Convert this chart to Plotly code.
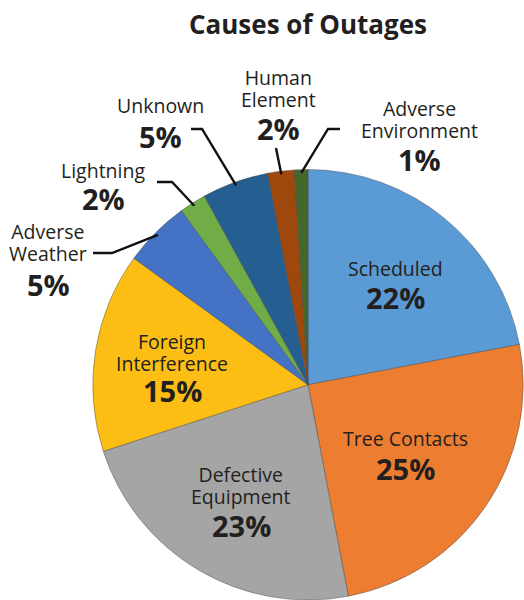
import math
import plotly.graph_objects as go

# ---- data ----
categories = ["Scheduled", "Tree Contacts", "Defective Equipment", "Foreign Interference",
              "Adverse Weather", "Lightning", "Unknown", "Human Element", "Adverse Environment"]
values = [22, 25, 23, 15, 5, 2, 5, 2, 1]
label_lines = [["Scheduled"], ["Tree Contacts"], ["Defective", "Equipment"], ["Foreign", "Interference"],
               ["Adverse", "Weather"], ["Lightning"], ["Unknown"], ["Human", "Element"], ["Adverse", "Environment"]]
colors = ["#5B9BD5", "#ED7D31", "#A5A5A5", "#FCBE14", "#4472C4", "#70AD47", "#255E91", "#9E480E", "#43682B"]
title_text = "Causes of Outages"

# ---- layout (pixels in the reference picture) ----
W, H = 524, 600
CX, CY, R = 308, 385, 215.5
FONT = "Open Sans"
TXT = "#231F20"
NAME_SIZE = 19.5
NAME_BASE = 17  # base size -> 1.3 * 17 = 22 px line spacing
PCT_SIZE = 29
TITLE_SIZE = 26
LINE_GAP = 22

# label text anchor: (x center, y of first line) in px, gap before percent line
label_pos = [(395, 268), (405, 438), (241, 474), (172, 341),
             (48, 231), (103, 170), (160, 106), (278, 78), (419, 108)]
pct_gap = [30, 30, 29, 28, 31, 28, 30, 29, 30]
# leader lines for outside labels: index -> (elbow px, end px)
leaders = {
    4: ((112, 253), (93, 253)),
    5: ((172, 182), (157, 182)),
    6: ((202, 129), (191, 129)),
    7: (None, (276, 148)),
    8: ((328, 129), (340, 129)),
}

def px(x):
    return x / W

def py(y):
    return 1 - y / H

fig = go.Figure(go.Pie(
    labels=categories,
    values=values,
    sort=False,
    direction="clockwise",
    rotation=0,
    marker=dict(colors=colors, line=dict(color="rgba(70,70,70,0.55)", width=0.8)),
    textinfo="none",
    hoverinfo="label+percent",
    domain=dict(x=[px(CX - R), min(1.0, px(CX + R))], y=[max(0.0, py(CY + R)), py(CY - R)]),
    showlegend=False,
))

annotations = [dict(text=f"<b>{title_text}</b>", x=px(CX), y=py(24), xref="paper", yref="paper",
                    showarrow=False, xanchor="center", yanchor="middle",
                    font=dict(family=FONT, size=TITLE_SIZE, color=TXT))]
total = sum(values)
shapes = []
cum = 0
for i, v in enumerate(values):
    pct = round(100 * v / total)
    lx, ly = label_pos[i]
    n = len(label_lines[i])
    name_txt = "<br>".join(f"<span style='font-size:{NAME_SIZE}px'>{t}</span>" for t in label_lines[i])
    block_mid = ly + (n - 1) * LINE_GAP / 2
    annotations.append(dict(text=name_txt, x=px(lx), y=py(block_mid), xref="paper", yref="paper",
                            showarrow=False, xanchor="center", yanchor="middle", align="center",
                            font=dict(family=FONT, size=NAME_BASE, color=TXT)))
    ply = ly + (n - 1) * LINE_GAP + pct_gap[i]
    annotations.append(dict(text=f"<b>{pct}%</b>", x=px(lx), y=py(ply), xref="paper", yref="paper",
                            showarrow=False, xanchor="center", yanchor="middle",
                            font=dict(family=FONT, size=PCT_SIZE, color=TXT)))
    mid = (cum + v / 2) / total * 2 * math.pi
    cum += v
    if i in leaders:
        ex = CX + 0.985 * R * math.sin(mid)
        ey = CY - 0.985 * R * math.cos(mid)
        elbow, end = leaders[i]
        pts = [(ex, ey)] + ([elbow] if elbow else []) + [end]
        path = "M " + " L ".join(f"{px(x):.5f},{py(y):.5f}" for x, y in pts)
        shapes.append(dict(type="path", path=path, xref="paper", yref="paper",
                           line=dict(color="#111111", width=2.4)))

fig.update_layout(
    width=W, height=H,
    margin=dict(l=0, r=0, t=0, b=0),
    paper_bgcolor="white",
    plot_bgcolor="white",
    annotations=annotations,
    shapes=shapes,
)

fig.write_html(
    "out.html",
    config={"displayModeBar": False},
    post_script="document.body.style.margin='0';document.body.style.overflow='hidden';",
)
